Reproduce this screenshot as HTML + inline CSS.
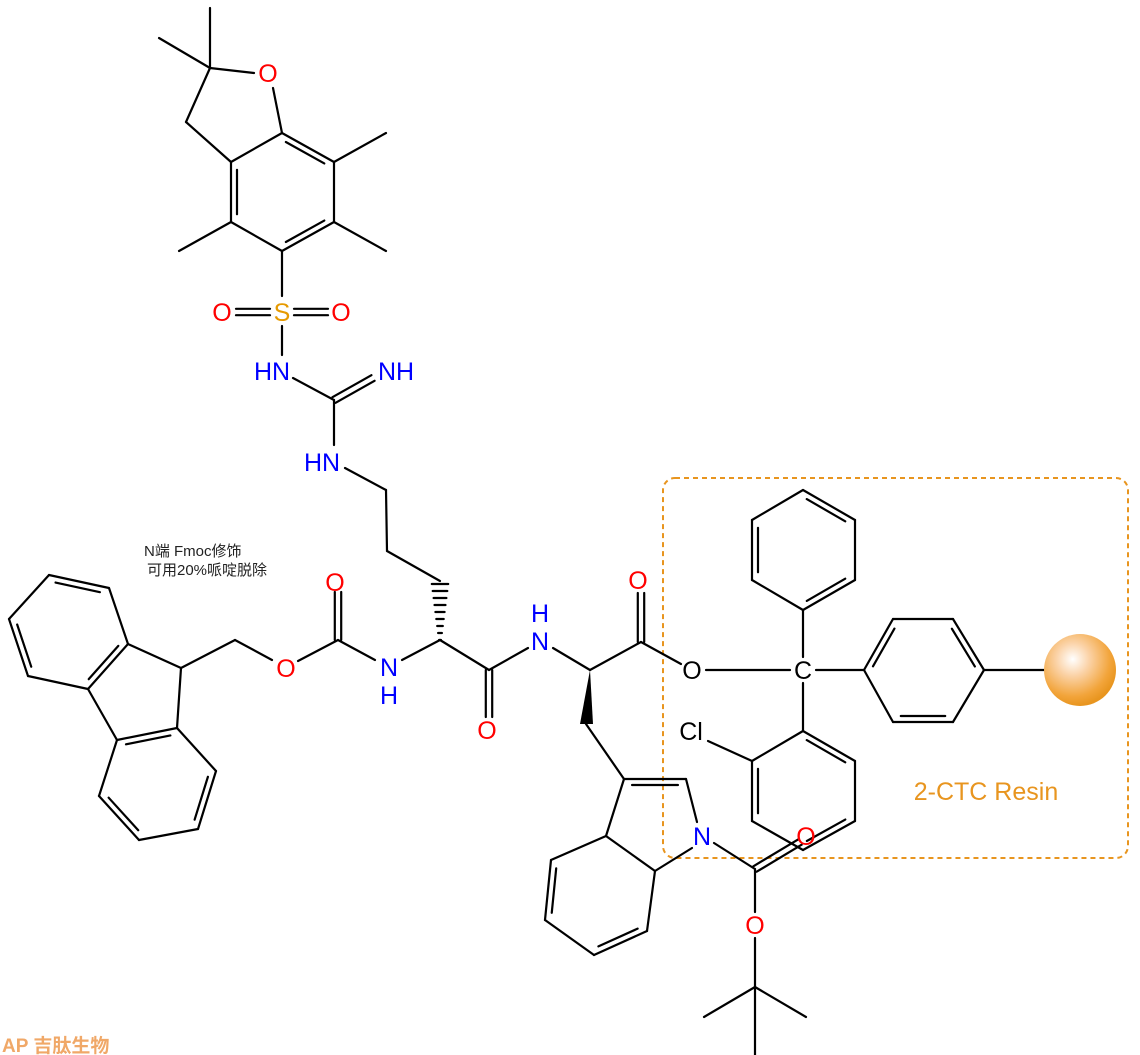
<!DOCTYPE html>
<html><head><meta charset="utf-8"><style>
html,body{margin:0;padding:0;background:#fff;width:1140px;height:1055px;overflow:hidden}
svg{display:block}
text{font-family:"Liberation Sans","Noto Sans CJK SC",sans-serif}
</style></head><body>
<svg id="s" width="1140" height="1055" viewBox="0 0 1140 1055" xmlns="http://www.w3.org/2000/svg">
<defs>
<radialGradient id="bead" cx="0.4" cy="0.35" r="0.65">
<stop offset="0" stop-color="#ffffff"/><stop offset="0.35" stop-color="#fbd3a8"/><stop offset="0.8" stop-color="#f2a43a"/><stop offset="1" stop-color="#e8951f"/>
</radialGradient>
</defs>
<rect x="663" y="478" width="465" height="380" rx="12" fill="none" stroke="#E8951F" stroke-width="2" stroke-dasharray="5,4"/>
<g id="b" stroke="#000" stroke-width="2.2" fill="none" stroke-linecap="round"></g>
<circle cx="1080" cy="670" r="36" fill="url(#bead)"/>
<g id="t" font-size="25" text-anchor="middle"></g>
<text x="144" y="556" font-size="15" fill="#222">N端 Fmoc修饰</text>
<text x="147" y="575" font-size="15" fill="#222">可用20%哌啶脱除</text>
<text x="986" y="800" font-size="25" fill="#E8951F" text-anchor="middle">2-CTC Resin</text>
<text x="2" y="1052" font-size="19" fill="#F0A868" font-weight="bold">AP 吉肽生物</text>
</svg>
<script>
var B=document.getElementById('b'),T=document.getElementById('t');
function L(x1,y1,x2,y2){var l=document.createElementNS('http://www.w3.org/2000/svg','line');l.setAttribute('x1',x1);l.setAttribute('y1',y1);l.setAttribute('x2',x2);l.setAttribute('y2',y2);B.appendChild(l);}
function bond(a,b){L(a[0],a[1],b[0],b[1]);}
// inner double toward center c
function inner(a,b,c){bond(a,b);var dx=b[0]-a[0],dy=b[1]-a[1],len=Math.hypot(dx,dy);var nx=-dy/len,ny=dx/len;var mx=(a[0]+b[0])/2,my=(a[1]+b[1])/2;if((c[0]-mx)*nx+(c[1]-my)*ny<0){nx=-nx;ny=-ny;}var o=6,s=0.13;L(a[0]+dx*s+nx*o,a[1]+dy*s+ny*o,b[0]-dx*s+nx*o,b[1]-dy*s+ny*o);}
function dbl(a,b){var dx=b[0]-a[0],dy=b[1]-a[1],len=Math.hypot(dx,dy);var nx=-dy/len*3.2,ny=dx/len*3.2;L(a[0]+nx,a[1]+ny,b[0]+nx,b[1]+ny);L(a[0]-nx,a[1]-ny,b[0]-nx,b[1]-ny);}
function ring(p,dbls){var c=[0,0];p.forEach(function(q){c[0]+=q[0]/6;c[1]+=q[1]/6;});for(var i=0;i<6;i++){var a=p[i],b=p[(i+1)%6];if(dbls.indexOf(i)>=0)inner(a,b,c);else bond(a,b);}}
function txt(x,y,s,col){var t=document.createElementNS('http://www.w3.org/2000/svg','text');t.setAttribute('x',x);t.setAttribute('y',y+9);t.setAttribute('fill',col);t.textContent=s;T.appendChild(t);}
var R='#FF0000',N='#0000FF',K='#000';
// top benzofuran
var Cq=[210,68],CH2=[186,122],C3a=[231,162],C7a=[282,133],C7=[334,162],C6=[334,222],C5=[282,251],C4=[231,222];
bond(Cq,[210,8]);bond(Cq,[159,38]);bond(Cq,[254,73]);bond([273,88],C7a);bond(Cq,CH2);bond(CH2,C3a);
// ring order: C3a,C7a,C7,C6,C5,C4
ring([C3a,C7a,C7,C6,C5,C4],[1,3,5]);
bond(C7,[386,133]);bond(C6,[386,251]);bond(C4,[179,251]);
bond(C5,[282,296]);
dbl([236,312],[270,312]);dbl([294,312],[328,312]);
bond([282,326],[282,355]);
var Cg=[334,400];
bond([293,378],Cg);dbl(Cg,[373,378]);bond(Cg,[334,445]);
bond([345,468],[386,490]);bond([386,490],[387,551]);bond([387,551],[440,581]);
// hashed wedge alpha (440,640)->(440,581)
for(var i=0;i<9;i++){var y=640-i*7,w=1+i*0.9;L(440-w,y,440+w,y);}
var Al=[440,640];
bond([402,660],Al);bond(Al,[489,670]);dbl([489,670],[489,717]);bond([489,670],[528,648]);
bond([553,648],[590,670]);
// carbamate
bond([375,660],[338,640]);dbl([338,640],[338,592]);bond([338,640],[298,661]);bond([272,660],[235,640]);bond([235,640],[181,668]);
// fluorene
var a1=[49,575],a2=[109,588],a3=[128,644],a4=[88,689],a5=[28,676],a6=[9,619];
ring([a1,a2,a3,a4,a5,a6],[0,2,4]);
var b1=[117,740],b2=[177,728],b3=[216,771],b4=[198,829],b5=[139,840],b6=[99,796];
ring([a4,b1,b2,b3,b4,b5].length?[b1,b2,b3,b4,b5,b6]:[],[0,2,4]);
bond(a4,b1);bond(a3,[181,668]);bond([181,668],b2);
// Trp
var Ta=[590,670],Tc=[641,642];
bond(Ta,Tc);dbl(Tc,[641,593]);bond(Tc,[681,664]);
// solid wedge
var w=document.createElementNS('http://www.w3.org/2000/svg','polygon');w.setAttribute('points','590,670 580,724 593,724');w.setAttribute('fill','#000');w.setAttribute('stroke','none');B.parentNode.insertBefore(w,T);
var C3=[624,779],C2=[686,779],Nn=[702,836],C7x=[655,871],C3x=[606,836];
bond([586,724],C3);inner(C3,C2,[650,830]);bond(C2,[697,822]);bond([692,848],C7x);bond(C7x,C3x);bond(C3x,C3);
var e1=[551,860],e2=[545,920],e3=[594,955],e4=[647,931];
bond(C3x,e1);inner(e1,e2,[600,900]);bond(e2,e3);inner(e3,e4,[600,900]);bond(e4,C7x);
var Bc=[755,869];
bond([714,843],Bc);dbl(Bc,[800,842]);bond(Bc,[755,912]);bond([755,938],[755,987]);
bond([755,987],[704,1017]);bond([755,987],[806,1017]);bond([755,987],[755,1055]);
// trityl
var Ct=[803,670];
bond([706,670],[790,670]);
bond([803,657],[803,610]);bond([816,670],[864,670]);bond([803,683],[803,731]);
ring([[803,610],[855,580],[855,520],[803,490],[752,520],[752,580]],[0,2,4]);
ring([[864,670],[893,619],[953,619],[984,670],[953,722],[893,722]],[0,2,4]);
ring([[803,731],[855,761],[855,821],[803,850],[752,821],[752,761]],[0,2,4]);
bond([708,741],[752,761]);
bond([984,670],[1044,670]);
// labels
txt(268,73,'O',R);txt(222,312,'O',R);txt(341,312,'O',R);txt(282,312,'S','#E69A00');
txt(272,371,'HN',N);txt(396,371,'NH',N);txt(322,462,'HN',N);
txt(335,582,'O',R);txt(286,668,'O',R);txt(389,667,'N',N);txt(389,695,'H',N);
txt(487,730,'O',R);txt(540,641,'N',N);txt(540,613,'H',N);
txt(638,580,'O',R);txt(692,670,'O',K);txt(803,670,'C',K);txt(691,731,'Cl',K);
txt(702,836,'N',N);txt(806,836,'O',R);txt(755,925,'O',R);
</script>
</body></html>
